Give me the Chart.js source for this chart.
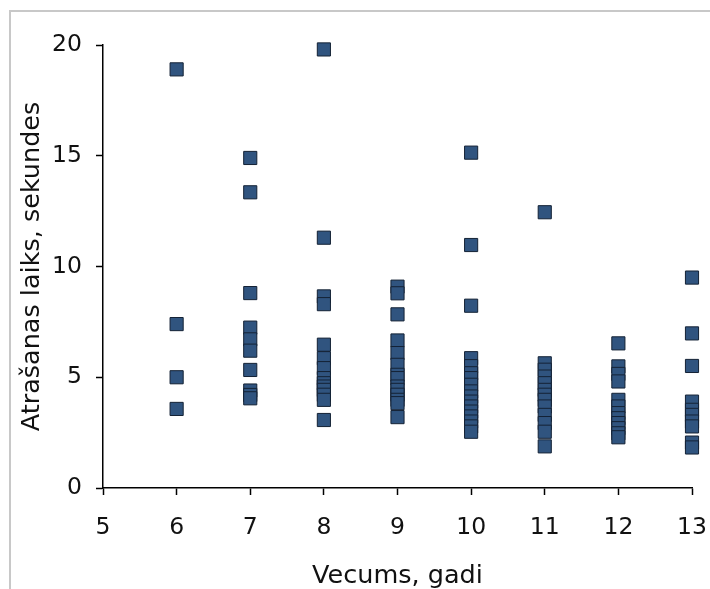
<!DOCTYPE html>
<html><head><meta charset="utf-8">
<script src="https://cdn.jsdelivr.net/npm/chart.js@4"></script>
<style>
html,body{margin:0;padding:0;background:#fff;}
#wrap{position:relative;width:710px;height:589px;overflow:hidden;}
#frame{position:absolute;left:9px;top:10px;width:900px;height:700px;border-left:2px solid #c8c8c8;border-top:2px solid #c8c8c8;}
canvas{position:absolute;left:0;top:0;}
</style></head>
<body><div id="wrap"><div id="frame"></div><canvas id="c" width="710" height="589"></canvas></div>
<script>
const ages = [6, 7, 8, 9, 10, 11, 12, 13];
const times6 = [18.9, 7.4, 5.0, 3.57];
const times7 = [14.9, 13.35, 8.8, 7.24, 6.71, 6.2, 5.33, 4.4, 4.2, 4.05];
const times8 = [19.8, 11.3, 8.65, 8.3, 6.47, 5.86, 5.41, 4.96, 4.73, 4.58, 4.43, 4.21, 3.98, 3.07];
const times9 = [9.09, 8.79, 7.84, 6.66, 6.09, 5.56, 5.11, 4.96, 4.58, 4.43, 4.21, 3.98, 3.83, 3.2];
const times10 = [15.14, 10.97, 8.23, 5.86, 5.5, 5.18, 4.96, 4.66, 4.36, 4.13, 3.9, 3.68, 3.45, 3.23, 3.0, 2.78, 2.54];
const times11 = [12.45, 5.63, 5.34, 5.03, 4.73, 4.43, 4.21, 3.98, 3.68, 3.3, 2.93, 2.54, 1.88];
const times12 = [6.53, 5.49, 5.15, 4.81, 3.98, 3.68, 3.38, 3.15, 2.93, 2.7, 2.47, 2.29];
const times13 = [9.5, 6.98, 5.51, 3.9, 3.53, 3.3, 3.0, 2.78, 2.05, 1.83];
const xTickLabels = ['5', '6', '7', '8', '9', '10', '11', '12', '13'];
const yTickLabels = ['0', '5', '10', '15', '20'];
const xTitle = 'Vecums, gadi';
const yTitle = 'Atrašanas laiks, sekundes';

const groups = [times6, times7, times8, times9, times10, times11, times12, times13];
const points = [];
groups.forEach((arr, i) => arr.forEach(v => points.push({x: ages[i], y: v})));

const FONT = 'DejaVu Sans';
new Chart(document.getElementById('c'), {
  type: 'scatter',
  data: {
    datasets: [{
      data: points,
      pointStyle: 'rect',
      pointRadius: 9.3,
      pointHoverRadius: 9.3,
      backgroundColor: '#30547f',
      borderColor: '#142235',
      borderWidth: 1,
      clip: false
    }]
  },
  options: {
    responsive: false,
    animation: false,
    events: [],
    layout: {padding: {left: 0, right: 18, top: 45, bottom: 0}},
    plugins: {legend: {display: false}, tooltip: {enabled: false}},
    scales: {
      x: {
        type: 'linear', min: 5, max: 13,
        afterFit: s => { s.height = 101; s.paddingRight = 0; s.paddingLeft = 0; },
        afterBuildTicks: s => { s.ticks = xTickLabels.map(t => ({value: Number(t)})); },
        ticks: {stepSize: 1, color: '#111', font: {family: FONT, size: 23.5}, padding: 19,
                callback: (v, i) => xTickLabels[i]},
        grid: {drawOnChartArea: false, drawTicks: true, tickLength: 7, color: '#000', tickWidth: 1.5},
        border: {color: '#000', width: 1.5},
        title: {display: true, text: xTitle, color: '#111', font: {family: FONT, size: 25.5, lineHeight: 1}, padding: {top: 0, bottom: 0}}
      },
      y: {
        type: 'linear', min: 0, max: 20,
        afterFit: s => { s.width = 103; s.paddingTop = 0; s.paddingBottom = 0; },
        afterBuildTicks: s => { s.ticks = yTickLabels.map(t => ({value: Number(t)})); },
        ticks: {stepSize: 5, color: '#111', font: {family: FONT, size: 23.5}, padding: 14,
                callback: (v, i) => yTickLabels[i]},
        grid: {drawOnChartArea: false, drawTicks: true, tickLength: 7, color: '#000', tickWidth: 1.5},
        border: {color: '#000', width: 1.5},
        title: {display: true, text: yTitle, color: '#111', font: {family: FONT, size: 25.5, lineHeight: 1}, padding: {top: 20, bottom: 0}}
      }
    }
  }
});
</script></body></html>
